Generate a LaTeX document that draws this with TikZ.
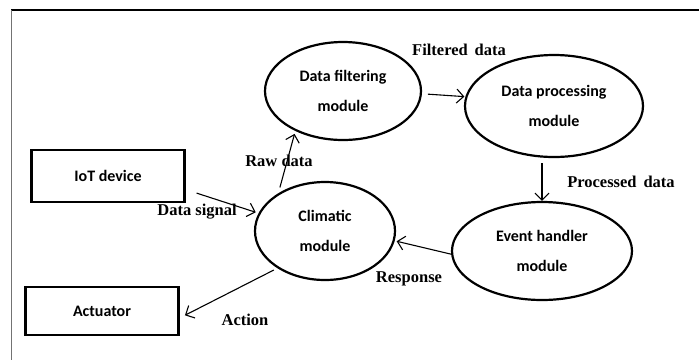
\documentclass[tikz,border=0pt]{standalone}
\usepackage{fontspec}
\setmainfont{Liberation Serif}
\newfontfamily\boxfont{Carlito}
\usetikzlibrary{shapes.geometric,arrows.meta}

\tikzset{
  module/.style={draw, ellipse, line width=2.2pt, inner sep=0pt, align=center,
    font=\boxfont\bfseries\fontsize{16}{30}\selectfont},
  unit/.style={draw, rectangle, line width=2.2pt, inner sep=0pt,
    font=\boxfont\bfseries\fontsize{16}{19}\selectfont},
  flow/.style={line width=1.1pt, -{Straight Barb[length=7pt,width=14pt]}},
  tag/.style={font=\bfseries\fontsize{16.5}{20}\selectfont, inner sep=0pt}
}

\begin{document}
\begin{tikzpicture}[x=1pt, y=-1pt]
\definecolor{rand}{gray}{0.45}
\useasboundingbox (0, 0) rectangle (699, 360);

\draw[line width=1.4pt] (11, 10) -- (699, 10);
\draw[rand, line width=0.8pt] (11, 10) -- (11, 360);

\node[unit, minimum width=153, minimum height=52] (iot) at (108, 176) {IoT device};
\node[unit, minimum width=153, minimum height=48] (act) at (102, 311) {Actuator};

\node[module, minimum width=156, minimum height=98] (filter) at (343, 91)
    {Data filtering\\module};
\node[module, minimum width=178, minimum height=102] (process) at (554, 106)
    {Data processing\\module};
\node[module, minimum width=180, minimum height=98] (event) at (542, 251)
    {Event handler\\module};
\node[module, minimum width=140, minimum height=98] (clim) at (325, 231)
    {Climatic\\module};

\draw[flow, shorten >=3pt] ([shift={(11pt, 10pt)}]iot.south east) -- (clim.165);
\draw[flow, shorten <=6pt, shorten >=3pt] (clim.141) -- (filter.220);
\draw[flow, shorten <=6pt, shorten >=1pt] (filter.-2) -- (process.174);
\draw[flow, shorten <=5pt] (process.south -| event.north) -- (event.north);
\draw[flow, shorten >=2pt] (event.182) -- (clim.-8);
\draw[flow, shorten <=4pt, shorten >=6pt] (clim.218) -- ([yshift=-7pt]act.east);

\node[tag] (lfilt) at (459, 50) {Filtered\, data};
\node[tag] (lraw) at (279, 161) {Raw data};
\node[tag] (lproc) at (621, 182) {Processed\, data};
\node[tag] (lsig) at (197, 212) {Data signal};
\node[tag] (lresp) at (409, 279) {Response};
\node[tag] (lact) at (245, 320) {Action};

\end{tikzpicture}
\end{document}
